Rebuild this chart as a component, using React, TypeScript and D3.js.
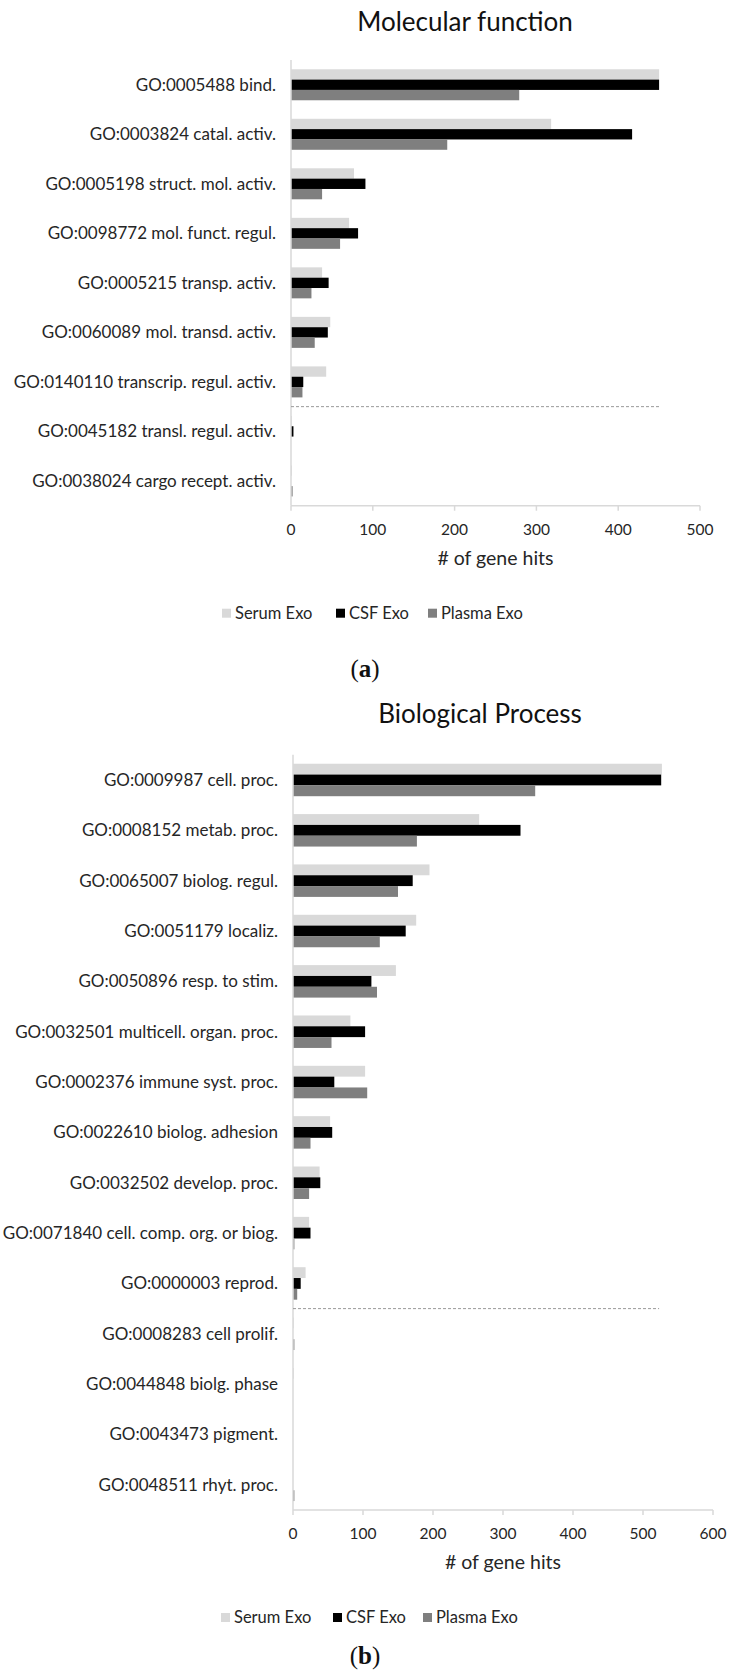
import React from 'react';
import * as d3 from 'd3';

// ---------- data ----------
const seriesNames = ['Serum Exo', 'CSF Exo', 'Plasma Exo'];
const seriesColors = ['#d9d9d9', '#000000', '#7f7f7f'];

const mfCategories = [
  'GO:0005488 bind.',
  'GO:0003824 catal. activ.',
  'GO:0005198 struct. mol. activ.',
  'GO:0098772 mol. funct. regul.',
  'GO:0005215 transp. activ.',
  'GO:0060089 mol. transd. activ.',
  'GO:0140110 transcrip. regul. activ.',
  'GO:0045182 transl. regul. activ.',
  'GO:0038024 cargo recept. activ.',
];
const mfSerum = [450, 318, 77, 71, 38, 48, 43, 1, 1];
const mfCSF = [450, 417, 91, 82, 46, 45, 15, 3, 0];
const mfPlasma = [279, 191, 38, 60, 25, 29, 14, 0, 2];
const mfTicks = [0, 100, 200, 300, 400, 500];

const bpCategories = [
  'GO:0009987 cell. proc.',
  'GO:0008152 metab. proc.',
  'GO:0065007 biolog. regul.',
  'GO:0051179 localiz.',
  'GO:0050896 resp. to stim.',
  'GO:0032501 multicell. organ. proc.',
  'GO:0002376 immune syst. proc.',
  'GO:0022610 biolog. adhesion',
  'GO:0032502 develop. proc.',
  'GO:0071840 cell. comp. org. or biog.',
  'GO:0000003 reprod.',
  'GO:0008283 cell prolif.',
  'GO:0044848 biolg. phase',
  'GO:0043473 pigment.',
  'GO:0048511 rhyt. proc.',
];
const bpSerum = [527, 266, 195, 176, 147, 82, 103, 53, 38, 23, 18, 1, 1, 0, 0];
const bpCSF = [526, 325, 171, 161, 112, 103, 59, 56, 39, 25, 11, 0, 0, 0, 0];
const bpPlasma = [346, 177, 150, 124, 120, 55, 106, 25, 23, 2, 6, 2, 0, 0, 2];
const bpTicks = [0, 100, 200, 300, 400, 500, 600];

const FONT = 'Lato, "Open Sans", sans-serif';
const TEXT = '#262626';

type PanelProps = {
  title: string;
  titleX: number;
  titleY: number;
  categories: string[];
  series: number[][];
  ticks: number[];
  left: number;
  right: number;
  top: number;
  bottom: number;
  padding: number;
  cutIndex: number;
  cutValue: number;
  legendXs: number[];
  tag: string;
  tagY: number;
};

function Panel(p: PanelProps) {
  const xMax = p.ticks[p.ticks.length - 1];
  const x = d3.scaleLinear().domain([0, xMax]).range([p.left, p.right]);
  const y = d3
    .scaleBand<string>()
    .domain(p.categories)
    .range([p.top, p.bottom])
    .paddingInner(p.padding)
    .paddingOuter(p.padding / 2);
  const inner = d3.scaleBand<string>().domain(seriesNames).range([0, y.bandwidth()]);
  const gap = y.step() - y.bandwidth();
  const cutY = (y(p.categories[p.cutIndex]) as number) - gap / 2;

  return (
    <g>
      <text x={p.titleX} y={p.titleY} textAnchor="middle" fontSize={26} fill="#111" fontFamily={FONT}>
        {p.title}
      </text>
      {/* category labels */}
      {p.categories.map((c) => (
        <text
          key={c}
          x={p.left - 15}
          y={(y(c) as number) + y.bandwidth() / 2}
          dy="0.35em"
          textAnchor="end"
          fontSize={17}
          fill={TEXT}
          fontFamily={FONT}
        >
          {c}
        </text>
      ))}
      {/* bars */}
      {p.series.map((vals, si) =>
        vals.map((v, ci) => {
          const c = p.categories[ci];
          const w = x(v) - x(0);
          if (w <= 0) return null;
          return (
            <rect
              key={si + '-' + ci}
              x={x(0)}
              y={(y(c) as number) + (inner(seriesNames[si]) as number)}
              width={w}
              height={inner.bandwidth()}
              fill={seriesColors[si]}
            />
          );
        })
      )}
      {/* vertical axis line */}
      <line x1={x(0)} x2={x(0)} y1={p.top} y2={p.bottom} stroke="#d9d9d9" strokeWidth={1.5} />
      {/* dashed separator */}
      <line
        x1={x(0)}
        x2={x(p.cutValue)}
        y1={cutY}
        y2={cutY}
        stroke="#999"
        strokeWidth={1}
        strokeDasharray="3,2"
      />
      {/* x axis */}
      <line x1={x(0)} x2={x(xMax)} y1={p.bottom} y2={p.bottom} stroke="#d9d9d9" strokeWidth={1.5} />
      {p.ticks.map((t) => (
        <g key={t}>
          <line x1={x(t)} x2={x(t)} y1={p.bottom} y2={p.bottom + 5} stroke="#d9d9d9" strokeWidth={1.5} />
          <text x={x(t)} y={p.bottom + 29} textAnchor="middle" fontSize={15.5} fill={TEXT} fontFamily={FONT}>
            {t}
          </text>
        </g>
      ))}
      <text
        x={(x(0) + x(xMax)) / 2}
        y={p.bottom + 59}
        textAnchor="middle"
        fontSize={19.5}
        fill={TEXT}
        fontFamily={FONT}
      >
        # of gene hits
      </text>
      {/* legend */}
      {seriesNames.map((s, i) => (
        <g key={s}>
          <rect x={p.legendXs[i]} y={p.bottom + 103} width={9} height={9} fill={seriesColors[i]} />
          <text
            x={p.legendXs[i] + 13}
            y={p.bottom + 107.5}
            dy="0.35em"
            fontSize={16.5}
            fill={TEXT}
            fontFamily={FONT}
          >
            {s}
          </text>
        </g>
      ))}
      {/* panel tag */}
      <text x={365} y={p.tagY} textAnchor="middle" fontSize={25} fill="#111" fontFamily='"Liberation Serif", serif'>
        (<tspan fontWeight="bold">{p.tag}</tspan>)
      </text>
    </g>
  );
}

export default function App() {
  return (
    <svg
      width={729}
      height={1677}
      style={{ position: 'absolute', left: 0, top: 0, background: '#fff' }}
    >
      <rect x={0} y={0} width={729} height={1677} fill="#fff" />
      <Panel
        title="Molecular function"
        titleX={465}
        titleY={31}
        categories={mfCategories}
        series={[mfSerum, mfCSF, mfPlasma]}
        ticks={mfTicks}
        left={291}
        right={700}
        top={60}
        bottom={505.7}
        padding={0.374}
        cutIndex={7}
        cutValue={450}
        legendXs={[222, 336, 428]}
        tag="a"
        tagY={677}
      />
      <Panel
        title="Biological Process"
        titleX={480}
        titleY={723}
        categories={bpCategories}
        series={[bpSerum, bpCSF, bpPlasma]}
        ticks={bpTicks}
        left={293}
        right={713}
        top={754.8}
        bottom={1510}
        padding={0.355}
        cutIndex={11}
        cutValue={523}
        legendXs={[221, 333, 423]}
        tag="b"
        tagY={1664}
      />
    </svg>
  );
}
